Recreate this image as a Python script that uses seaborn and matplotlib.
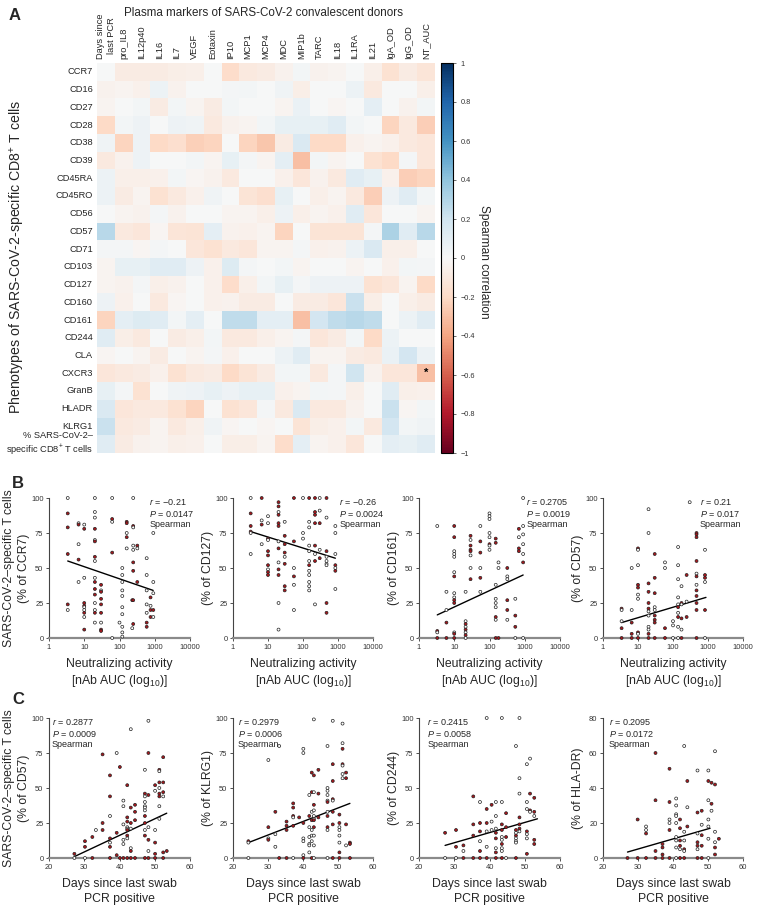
import numpy as np
import pandas as pd
import matplotlib
matplotlib.use("Agg")
import matplotlib.pyplot as plt
from matplotlib.ticker import NullLocator
import seaborn as sns

# ---------------- data: heatmap ----------------
col_labels = ["Days since\nlast PCR", "pro_IL8", "IL12p40", "IL16", "IL7", "VEGF", "Eotaxin",
              "IP10", "MCP1", "MCP4", "MDC", "MIP1b", "TARC", "IL18", "IL1RA", "IL21",
              "IgA_OD", "IgG_OD", "NT_AUC"]
row_labels = ["CCR7", "CD16", "CD27", "CD28", "CD38", "CD39", "CD45RA", "CD45RO", "CD56",
              "CD57", "CD71", "CD103", "CD127", "CD160", "CD161", "CD244", "CLA", "CXCR3",
              "GranB", "HLADR", "KLRG1", "% SARS-CoV-2–\nspecific CD8$^{+}$ T cells"]
corr = [
    [0, -0.08, -0.08, -0.08, -0.07, -0.06, 0, -0.18, -0.1, -0.08, -0.04, 0.03, -0.04, -0.03, 0, -0.06, -0.15, -0.08, -0.13],
    [-0.04, -0.03, -0.05, 0.06, -0.04, 0, 0, 0.02, 0.03, 0, 0.04, -0.07, 0, 0, 0.06, -0.1, 0, 0, -0.06],
    [-0.03, 0, 0.03, -0.08, 0.03, -0.03, -0.08, 0.03, 0, 0, -0.03, 0.07, 0, -0.02, 0, 0.1, 0, -0.04, 0.03],
    [-0.2, 0.03, 0.05, 0, 0.05, 0.04, -0.1, -0.04, -0.03, 0.03, 0.08, 0.08, 0.08, 0.12, 0.03, 0, -0.22, -0.1, -0.25],
    [0.04, -0.22, 0.05, -0.2, -0.17, -0.24, -0.22, 0, -0.22, -0.28, -0.08, 0.15, -0.2, -0.2, -0.05, -0.03, -0.05, -0.1, -0.12],
    [-0.1, -0.04, 0.05, 0, 0, 0.03, -0.03, 0.08, 0.02, -0.03, 0.1, -0.3, 0.03, -0.03, 0, -0.15, -0.2, 0.02, -0.12],
    [0.06, -0.06, -0.06, -0.05, 0.03, -0.02, -0.04, -0.1, 0, 0, -0.05, -0.12, -0.04, -0.1, 0.12, 0.08, -0.05, -0.25, -0.22],
    [0.06, -0.08, -0.03, -0.15, -0.1, -0.05, 0.04, 0, -0.14, -0.17, 0.08, 0, -0.06, -0.03, -0.1, -0.25, 0.05, 0.12, 0.03],
    [0, -0.03, -0.04, 0.02, -0.04, 0, 0, -0.03, -0.03, -0.06, 0.05, -0.06, -0.03, -0.05, 0.12, -0.12, 0, 0, -0.03],
    [0.28, -0.1, -0.12, -0.02, -0.13, -0.14, 0.1, -0.04, -0.05, -0.03, -0.22, 0, -0.14, -0.14, -0.14, 0.02, 0.32, 0.12, 0.28],
    [0.02, 0.02, -0.02, 0.02, 0, -0.12, -0.15, -0.1, -0.12, -0.03, -0.03, 0.02, -0.05, -0.04, 0.06, 0.15, -0.06, -0.06, 0],
    [-0.03, 0.08, 0.08, 0.12, 0.12, 0.05, -0.05, 0.14, 0.02, 0, 0.03, -0.03, 0, 0, -0.03, 0, -0.05, 0.03, 0.02],
    [-0.03, -0.04, 0.02, -0.06, -0.04, 0, -0.05, -0.18, -0.06, 0.03, 0.08, 0.02, 0.05, 0.05, 0.05, -0.15, -0.12, -0.03, -0.2],
    [0.05, -0.05, 0, -0.1, -0.02, 0, -0.05, -0.04, -0.08, -0.08, 0, -0.08, -0.08, -0.12, 0.22, -0.07, 0, -0.06, -0.08],
    [-0.22, 0.1, 0.14, 0.12, 0.03, 0.1, 0, 0.25, 0.25, 0.1, 0.1, -0.3, 0.18, 0.25, 0.28, 0.25, 0, 0.06, 0.12],
    [0.12, -0.07, -0.1, 0, -0.08, -0.06, 0.03, -0.1, -0.1, -0.06, -0.03, 0.02, -0.12, -0.08, 0.03, -0.2, 0.06, 0, 0],
    [-0.02, 0, -0.03, -0.08, 0, -0.03, 0.02, -0.05, 0, 0, 0.06, 0.12, -0.03, -0.03, -0.08, -0.1, 0.07, 0.18, 0.06],
    [-0.12, -0.1, -0.08, -0.05, -0.15, -0.1, -0.08, -0.2, -0.14, -0.08, 0.03, 0.03, -0.1, 0.02, 0.2, -0.04, -0.12, -0.12, -0.3],
    [0.08, 0.02, -0.15, 0, 0.04, 0.05, 0.08, 0.05, 0.08, 0.08, -0.05, -0.03, 0.03, 0.02, -0.06, 0, 0.12, -0.06, -0.05],
    [0.15, -0.12, -0.1, -0.1, -0.15, -0.22, 0, -0.15, -0.12, 0.02, -0.1, 0.15, -0.1, -0.1, -0.04, 0, 0.22, -0.02, 0.03],
    [0.22, -0.1, -0.08, -0.03, -0.1, -0.06, 0.04, -0.02, 0, -0.02, 0, -0.14, -0.07, -0.05, 0.03, -0.1, 0.18, 0.03, 0.04],
    [0.12, -0.08, -0.04, -0.03, -0.06, -0.05, 0, -0.07, -0.07, -0.03, -0.18, 0.1, -0.03, -0.05, -0.12, 0, 0.1, 0.08, 0.12],
]
star_row, star_col = "CXCR3", "NT_AUC"
cbar_ticks = [-1, -0.8, -0.6, -0.4, -0.2, 0, 0.2, 0.4, 0.6, 0.8, 1]
cbar_ticklabels = ["−1", "−0.8", "−0.6", "−0.4", "−0.2", "0", "0.2", "0.4", "0.6", "0.8", "1"]

# ---------------- data: scatter panels (x, y, group r=red / w=white) ----------------
b1_pts = [(3.4,100,'w'),(3.4,89,'r'),(3.4,79,'r'),(3.4,60,'r'),(3.4,24,'r'),(3.4,20,'w'),
          (6.9,82,'w'),(6.9,81,'r'),(6.9,67,'w'),(6.9,56,'r'),(6.9,40,'w'),
          (10,81,'w'),(10,78,'r'),(10,43,'w'),(10,25,'r'),(10,23,'r'),(10,22,'w'),(10,20,'w'),(10,18,'r'),(10,15,'w'),(10,6,'r'),
          (20,100,'w'),(20,90,'w'),(20,86,'w'),(20,78,'r'),(20,70,'w'),(20,69,'r'),(20,58,'r'),(20,55,'w'),(20,43,'w'),(20,40,'r'),
          (20,35,'r'),(20,31,'r'),(20,25,'w'),(20,20,'w'),(20,18,'r'),(20,11,'w'),
          (30,38,'r'),(30,34,'w'),(30,33,'r'),(30,28,'r'),(30,24,'r'),(30,18,'r'),(30,11,'w'),(30,6,'r'),(30,5,'r'),
          (62,100,'w'),(62,85,'r'),(62,83,'w'),(62,61,'r'),(62,0,'w'),(100,11,'w'),
          (120,50,'w'),(120,45,'w'),(120,40,'w'),(120,34,'w'),(120,30,'w'),(120,22,'w'),(120,17,'w'),(120,8,'w'),(120,4,'w'),(120,1,'w'),
          (160,83,'r'),(160,82,'r'),(160,75,'w'),(160,72,'r'),(160,64,'w'),(230,7,'w'),(230,27,'r'),
          (245,100,'w'),(245,80,'r'),(245,79,'w'),(245,66,'w'),(245,63,'w'),(245,54,'r'),(245,48,'r'),(245,27,'r'),(245,10,'r'),
          (320,66,'r'),(320,64,'w'),(320,40,'r'),
          (590,57,'w'),(590,45,'w'),(590,34,'w'),(590,24,'w'),(590,18,'w'),(590,11,'r'),(590,8,'r'),
          (760,29,'r'),(760,23,'w'),(760,20,'r'),(760,15,'r'),
          (910,75,'w'),(910,40,'w'),(910,32,'w'),(910,20,'r'),(910,15,'w')]
b2_pts = [(3.2,100,'w'),(3.2,89,'r'),(3.2,80,'r'),(3.2,76,'r'),(3.2,75,'w'),(3.2,60,'w'),
          (6.6,100,'r'),(6.6,84,'w'),(6.6,81,'r'),(6.6,67,'w'),
          (10,87,'w'),(10,82,'w'),(10,71,'r'),(10,70,'w'),(10,62,'r'),(10,59,'r'),(10,52,'r'),(10,49,'w'),(10,47,'r'),(10,45,'r'),
          (20,97,'r'),(20,94,'r'),(20,90,'w'),(20,88,'r'),(20,82,'r'),(20,80,'r'),(20,69,'w'),(20,64,'r'),(20,54,'w'),(20,49,'r'),
          (20,45,'r'),(20,25,'w'),(20,6,'w'),
          (30,83,'w'),(30,73,'r'),(30,67,'r'),(30,61,'r'),(30,58,'w'),(30,53,'r'),(30,37,'r'),(30,34,'r'),
          (55,100,'r'),(55,69,'r'),(55,50,'w'),(55,44,'r'),(55,38,'w'),(55,20,'w'),
          (100,100,'w'),(100,75,'w'),(100,71,'w'),
          (150,100,'r'),(150,83,'w'),(150,79,'w'),(150,66,'w'),(150,62,'w'),(150,55,'w'),(150,52,'r'),(150,48,'w'),(150,45,'w'),
          (150,40,'w'),(150,37,'w'),(150,34,'w'),
          (220,100,'r'),(220,90,'r'),(220,88,'r'),(220,82,'r'),(220,66,'r'),(220,60,'w'),(220,55,'r'),(220,24,'w'),
          (300,100,'w'),(300,91,'w'),(300,82,'r'),(300,63,'w'),(300,57,'r'),
          (470,100,'r'),(470,86,'w'),(470,62,'r'),(470,58,'w'),(470,55,'w'),(470,53,'w'),(470,52,'w'),(470,25,'r'),(470,18,'r'),
          (840,80,'w'),(840,75,'w'),(840,60,'w'),(840,52,'r'),(840,50,'w'),(840,48,'r'),(840,35,'w')]
b3_pts = [(3.3,80,'w'),(3.3,5,'r'),(3.3,4,'w'),(3.3,0,'r'),
          (6,33,'w'),(6,20,'w'),(6,11,'r'),(6,0,'r'),
          (10,80,'r'),(10,72,'r'),(10,62,'w'),(10,60,'w'),(10,58,'w'),(10,47,'w'),(10,44,'r'),(10,32,'w'),(10,29,'w'),(10,27,'r'),
          (10,25,'r'),(10,4,'w'),(10,3,'r'),(10,0,'r'),
          (21,33,'w'),(21,12,'w'),(21,10,'r'),(21,8,'w'),(21,6,'r'),(21,4,'w'),(21,2,'r'),(21,0,'w'),
          (29,73,'r'),(29,70,'w'),(29,66,'r'),(29,63,'r'),(29,62,'r'),(29,59,'w'),(29,50,'w'),(29,42,'r'),
          (55,80,'w'),(55,69,'r'),(55,61,'r'),(55,50,'w'),(55,43,'r'),(55,33,'w'),
          (100,89,'w'),(100,87,'w'),(100,85,'w'),(100,75,'w'),(100,72,'w'),(100,67,'r'),(100,66,'w'),(100,63,'w'),
          (150,71,'r'),(150,68,'r'),(150,38,'w'),(150,28,'w'),(150,25,'w'),(150,22,'w'),(150,15,'r'),(150,13,'w'),(150,0,'r'),
          (180,54,'w'),(180,50,'w'),(180,0,'r'),
          (320,50,'r'),(320,44,'w'),(320,42,'w'),(320,27,'r'),(320,20,'r'),(320,13,'w'),
          (540,28,'w'),(540,16,'r'),(540,8,'r'),(540,0,'w'),
          (680,78,'r'),(680,72,'w'),(680,64,'r'),(680,62,'r'),
          (900,100,'w'),(900,80,'w'),(900,74,'w'),(900,67,'w'),(900,60,'w'),(900,54,'r'),(900,0,'w')]
b4_pts = [(3.4,21,'r'),(3.4,20,'w'),(3.4,12,'w'),(3.4,7,'r'),(3.4,0,'r'),
          (6.6,50,'w'),(6.6,20,'w'),(6.6,11,'r'),(6.6,3,'r'),(6.6,0,'r'),
          (10,64,'r'),(10,63,'w'),(10,52,'w'),(10,38,'r'),(10,36,'r'),(10,31,'w'),(10,28,'w'),(10,4,'r'),(10,3,'w'),(10,0,'r'),
          (20,92,'w'),(20,75,'w'),(20,39,'r'),(20,33,'r'),(20,25,'r'),(20,21,'r'),(20,19,'w'),(20,16,'w'),(20,8,'w'),(20,6,'w'),
          (20,3,'r'),(20,0,'r'),
          (30,60,'r'),(30,43,'r'),(30,32,'r'),(30,22,'w'),(30,20,'w'),(30,16,'r'),(30,13,'r'),(30,11,'r'),(30,0,'r'),
          (59,54,'w'),(59,50,'w'),(59,7,'r'),(59,0,'r'),(100,12,'w'),(100,9,'w'),(100,0,'w'),
          (140,65,'w'),(140,52,'w'),(140,42,'w'),(140,29,'w'),(140,24,'w'),(140,22,'r'),(140,18,'w'),(140,15,'r'),(140,8,'w'),(140,0,'w'),
          (175,37,'w'),(175,25,'r'),(175,24,'w'),(175,14,'r'),(175,6,'w'),(175,0,'r'),
          (245,45,'r'),(245,26,'w'),(245,15,'r'),(300,97,'w'),
          (470,75,'r'),(470,74,'r'),(470,72,'r'),(470,55,'r'),(470,46,'w'),(470,44,'r'),(470,38,'w'),(470,34,'r'),(470,30,'r'),
          (470,25,'r'),(470,20,'r'),(470,0,'r'),
          (820,63,'w'),(820,45,'r'),(820,43,'r'),(820,40,'w'),(820,20,'r'),(820,0,'w')]
c1_pts = [(27.2,3,'r'),(27.2,0,'w'),(30.2,12,'r'),(30.2,8,'r'),(30.2,0,'w'),(32.3,15,'r'),(32.3,0,'r'),(33.3,20,'w'),
          (35.2,74,'r'),(35.2,25,'r'),(35.2,20,'r'),
          (37.3,59,'r'),(37.3,44,'r'),(37.3,30,'w'),(37.3,14,'r'),(37.3,11,'w'),(37.3,8,'r'),(37.3,0,'r'),
          (39.2,75,'w'),(39.2,18,'r'),(39.2,2,'r'),(40.1,65,'r'),(40.1,0,'r'),
          (41.1,41,'w'),(41.1,37,'w'),(41.1,24,'w'),(41.1,13,'w'),(41.1,10,'w'),(41.1,0,'r'),
          (42.2,52,'r'),(42.2,29,'r'),(42.2,26,'r'),(42.2,22,'w'),(42.2,21,'w'),(42.2,20,'r'),(42.2,16,'r'),(42.2,14,'w'),(42.2,0,'r'),
          (43.2,92,'w'),(43.2,36,'r'),(43.2,25,'r'),(43.2,21,'w'),(43.2,7,'w'),(43.2,5,'r'),(43.2,0,'r'),
          (44.4,38,'r'),(44.4,33,'r'),(44.4,27,'r'),(44.4,0,'r'),
          (47.2,63,'w'),(47.2,46,'r'),(47.2,44,'w'),(47.2,40,'w'),(47.2,37,'w'),(47.2,36,'w'),(47.2,34,'w'),(47.2,30,'r'),
          (47.2,25,'r'),(47.2,20,'w'),(47.2,16,'r'),(47.2,0,'r'),
          (48.2,98,'w'),(48.2,75,'r'),(48.2,45,'r'),(48.2,22,'w'),(48.2,13,'r'),(48.2,5,'w'),(48.2,0,'r'),
          (50.1,52,'r'),(50.1,48,'w'),(50.1,20,'w'),(50.1,11,'r'),(50.1,3,'r'),(50.1,0,'r'),
          (51.3,63,'r'),(51.3,62,'w'),(51.3,54,'r'),(51.3,50,'w'),(51.3,46,'r'),(51.3,44,'r'),(51.3,37,'w'),(51.3,28,'w'),
          (52.4,72,'r'),(52.4,54,'r'),(52.4,47,'r'),(52.4,44,'w'),(52.4,4,'r'),(52.4,0,'r'),(53.4,5,'r')]
c2_pts = [(24.4,12,'r'),(24.4,11,'w'),(24.4,0,'w'),(30.1,70,'w'),(30.1,22,'r'),(30.1,14,'w'),(30.1,13,'r'),
          (32.1,33,'r'),(32.1,17,'w'),(32.1,8,'w'),(33.2,80,'w'),(33.2,0,'r'),
          (35.3,26,'r'),(35.3,23,'r'),(35.3,20,'r'),(35.3,0,'r'),
          (37.2,39,'r'),(37.2,36,'r'),(37.2,30,'r'),(37.2,29,'w'),(37.2,23,'r'),(37.2,0,'w'),(38.9,29,'r'),
          (40.1,78,'w'),(40.1,75,'w'),(40.1,25,'r'),(40.1,14,'w'),(40.1,12,'w'),(40.1,2,'w'),(40.1,0,'r'),
          (41.8,45,'w'),(41.8,30,'r'),(41.8,22,'w'),(41.8,15,'w'),(41.8,10,'w'),(41.8,9,'w'),(41.8,4,'w'),
          (42.5,61,'r'),(42.5,47,'r'),(42.5,33,'w'),(42.5,27,'r'),(42.5,20,'w'),(42.5,16,'w'),(42.5,12,'w'),(42.5,0,'r'),
          (43.1,99,'w'),(43.1,59,'r'),(43.1,47,'w'),(43.1,38,'r'),(43.1,34,'w'),(43.1,30,'w'),(43.1,28,'w'),(43.1,27,'r'),
          (43.1,22,'r'),(43.1,16,'w'),(43.1,9,'w'),(43.1,0,'w'),
          (44.4,63,'r'),(44.4,46,'r'),(44.4,29,'r'),
          (47.0,80,'w'),(47.0,50,'w'),(47.0,48,'w'),(47.0,45,'w'),(47.0,41,'w'),(47.0,40,'r'),(47.0,33,'w'),(47.0,30,'r'),
          (47.0,22,'r'),(47.0,20,'w'),(47.0,0,'w'),
          (48.5,98,'w'),(48.5,67,'r'),(48.5,55,'r'),(48.5,42,'r'),(48.5,41,'w'),(48.5,33,'r'),(48.5,24,'r'),(48.5,0,'r'),
          (50.4,31,'r'),(50.4,25,'r'),(50.4,22,'w'),(50.4,20,'w'),(50.4,16,'w'),(50.4,11,'w'),(50.4,4,'r'),(50.4,0,'r'),
          (51.3,96,'w'),(51.3,82,'w'),(51.3,78,'r'),(51.3,67,'r'),(51.3,66,'w'),(51.3,60,'w'),(51.3,57,'w'),
          (52.3,61,'r'),(52.3,57,'r'),(52.3,24,'r'),(52.3,9,'w'),(53.4,11,'r'),(53.4,10,'r'),(53.4,0,'r')]
c3_pts = [(27.4,18,'r'),(27.4,0,'w'),(30.5,20,'r'),(30.5,8,'r'),(30.5,0,'w'),(32.6,9,'r'),(32.6,5,'w'),(32.6,0,'r'),
          (35.4,44,'r'),(35.4,24,'r'),(35.4,16,'r'),(35.4,0,'r'),
          (37.3,40,'w'),(37.3,25,'r'),(37.3,19,'r'),(37.3,12,'w'),(37.3,5,'r'),(37.3,0,'r'),
          (39.2,100,'w'),(39.2,35,'r'),(39.2,25,'r'),(39.2,19,'w'),(39.2,8,'w'),(39.2,0,'r'),
          (40.6,38,'r'),(40.6,26,'w'),(40.6,20,'w'),
          (41.8,40,'w'),(41.8,30,'w'),(41.8,21,'w'),(41.8,18,'r'),(41.8,14,'r'),(41.8,7,'w'),(41.8,4,'r'),(41.8,0,'r'),
          (43.5,100,'w'),(43.5,40,'w'),(43.5,24,'r'),(43.5,20,'r'),(43.5,15,'w'),(43.5,13,'w'),(43.5,10,'r'),(43.5,7,'w'),
          (43.5,5,'w'),(43.5,0,'r'),
          (44.7,32,'r'),(44.7,22,'r'),(44.7,15,'r'),(44.7,0,'w'),
          (47.5,80,'w'),(47.5,20,'r'),(47.5,18,'w'),(47.5,16,'r'),(47.5,14,'w'),(47.5,12,'w'),(47.5,11,'w'),(47.5,0,'r'),
          (48.5,100,'w'),(48.5,57,'w'),(48.5,46,'w'),(48.5,29,'r'),(48.5,24,'r'),(48.5,21,'r'),(48.5,19,'w'),
          (50.6,67,'w'),(50.6,40,'w'),(50.6,35,'w'),(50.6,19,'r'),(50.6,17,'w'),(50.6,14,'w'),(50.6,3,'r'),
          (51.5,71,'w'),(51.5,46,'r'),(51.5,34,'r'),(51.5,33,'w'),
          (52.7,43,'r'),(52.7,33,'r'),(52.7,30,'w'),(52.7,13,'r'),(52.7,10,'r')]
c4_pts = [(27.0,0,'r'),(29.9,22,'r'),(29.9,0,'r'),(32.3,18,'w'),(32.3,16,'w'),(32.3,14,'r'),(32.3,0,'r'),
          (35.0,60,'r'),(35.0,33,'r'),(35.0,4,'r'),(35.0,0,'r'),
          (37.0,8,'r'),(37.0,6,'r'),(37.0,2,'r'),(37.0,0,'r'),
          (39.0,51,'r'),(39.0,32,'r'),(39.0,22,'w'),(39.0,20,'w'),(39.0,16,'r'),(39.0,0,'r'),
          (40.9,34,'w'),(40.9,30,'w'),(40.9,25,'w'),(40.9,24,'w'),(40.9,20,'w'),(40.9,12,'w'),(40.9,10,'w'),(40.9,6,'w'),(40.9,0,'w'),
          (42.0,22,'r'),(42.0,17,'r'),(42.0,10,'r'),(42.0,7,'r'),(42.0,5,'w'),(42.0,0,'r'),
          (43.2,64,'w'),(43.2,15,'w'),(43.2,10,'w'),(43.2,5,'r'),(43.2,4,'w'),(43.2,0,'r'),
          (44.1,44,'r'),(44.1,29,'w'),(44.1,18,'r'),
          (47.0,50,'w'),(47.0,26,'r'),(47.0,14,'w'),(47.0,9,'r'),(47.0,7,'r'),(47.0,5,'w'),(47.0,0,'r'),
          (48.2,27,'r'),(48.2,19,'w'),(48.2,13,'r'),(48.2,7,'r'),(48.2,0,'r'),
          (50.1,50,'w'),(50.1,44,'r'),(50.1,33,'w'),(50.1,22,'w'),(50.1,18,'w'),(50.1,11,'w'),(50.1,0,'w'),
          (51.0,43,'r'),(51.0,31,'r'),(51.0,27,'w'),
          (52.0,61,'w'),(52.0,42,'r'),(52.0,15,'w'),(52.0,9,'w'),(52.0,6,'r'),(52.0,2,'r'),(53.1,11,'r')]

# regression line endpoints
b1_fit = ([3.4, 900], [55, 34])
b2_fit = ([3.2, 840], [76, 57])
b3_fit = ([3.3, 900], [16.5, 45])
b4_fit = ([3.4, 875], [11, 29])
c1_fit = ([27.2, 53.4], [1, 32])
c2_fit = ([24.4, 53.4], [11, 39])
c3_fit = ([27.4, 53.6], [9, 28])
c4_fit = ([27.0, 50.6], [3.4, 17])

b_ylabels = ["SARS-CoV-2–specific T cells\n(% of CCR7)", "(% of CD127)", "(% of CD161)", "(% of CD57)"]
c_ylabels = ["SARS-CoV-2–specific T cells\n(% of CD57)", "(% of KLRG1)", "(% of CD244)", "(% of HLA-DR)"]
b_stats = [("−0.21", "0.0147"), ("−0.26", "0.0024"), ("0.2705", "0.0019"), ("0.21", "0.017")]
c_stats = [("0.2877", "0.0009"), ("0.2979", "0.0006"), ("0.2415", "0.0058"), ("0.2095", "0.0172")]
log_ticks = [1, 10, 100, 1000, 10000]
day_ticks = [20, 30, 40, 50, 60]

# ---------------- style ----------------
sns.set_theme(style="white")
plt.rcParams["font.family"] = ["Liberation Sans", "DejaVu Sans"]
plt.rcParams["mathtext.fontset"] = "custom"
plt.rcParams["mathtext.rm"] = "Liberation Sans"
plt.rcParams["mathtext.it"] = "Liberation Sans:italic"
plt.rcParams["mathtext.bf"] = "Liberation Sans:bold"

W, H = 765, 913
fig = plt.figure(figsize=(W / 100, H / 100), dpi=100)


def px_axes(x0, y0, x1, y1):
    return fig.add_axes([x0 / W, 1 - y1 / H, (x1 - x0) / W, (y1 - y0) / H])


# ---------------- panel A: heatmap ----------------
axh = px_axes(97, 63, 435, 453)
cax = px_axes(441, 63, 453, 453)
df = pd.DataFrame(corr, index=row_labels, columns=col_labels)
annot = np.full(df.shape, "", dtype=object)
annot[row_labels.index(star_row), col_labels.index(star_col)] = "*"
sns.heatmap(df, ax=axh, cbar_ax=cax, cmap="RdBu", vmin=-1, vmax=1,
            annot=annot, fmt="", annot_kws=dict(fontsize=8, color="black", fontweight="bold"))
axh.xaxis.tick_top()
axh.set_xticklabels(col_labels, rotation=90, fontsize=6.7, va="bottom", ha="center")
axh.set_yticklabels(row_labels, rotation=0, fontsize=6.7, ha="right")
axh.tick_params(length=0, pad=3)
axh.set_xlabel("")
axh.set_ylabel("")

cb = axh.collections[0].colorbar
cb.set_ticks(cbar_ticks)
cb.set_ticklabels(cbar_ticklabels)
cb.outline.set_edgecolor("black")
cb.outline.set_linewidth(0.8)
cax.tick_params(labelsize=5.3, length=2.5, width=0.5, pad=3, colors="#333333")
fig.text(484 / W, 1 - 262 / H, "Spearman correlation", rotation=270, fontsize=8.6,
         ha="center", va="center")

fig.text(263 / W, 1 - 13 / H, "Plasma markers of SARS-CoV-2 convalescent donors",
         fontsize=8.4, ha="center", va="center")
fig.text(18 / W, 1 - 257 / H, "Phenotypes of SARS-CoV-2-specific CD8$^{+}$ T cells",
         rotation=90, fontsize=10.2, ha="center", va="center")
for letter, (lx, ly) in zip("ABC", [(15, 15), (18, 483), (18, 699)]):
    fig.text(lx / W, 1 - ly / H, letter, fontsize=12, fontweight="bold", ha="center", va="center")

# ---------------- scatter panels ----------------
palette = {"w": "white", "r": "#a8161c"}
x_spans = [(49, 190), (233, 373), (419, 560), (603, 743)]
b_text_x = [0.71, 0.76, 0.76, 0.69]
c_text_x = [0.02, 0.035, 0.06, 0.04]


def style_axis(ax):
    sns.despine(ax=ax)
    ax.spines["left"].set_color("#444444")
    ax.spines["left"].set_linewidth(0.8)
    ax.spines["bottom"].set_color("#8a8a8a")
    ax.spines["bottom"].set_linewidth(1.6)
    ax.tick_params(axis="both", labelsize=5.4, length=2.5, width=0.6, colors="#333333",
                   pad=1.5, direction="out", bottom=True, left=True)
    ax.set_facecolor("none")


def draw_scatter(ax, pts, fit):
    d = pd.DataFrame(pts, columns=["x", "y", "grp"])
    sns.scatterplot(data=d, x="x", y="y", hue="grp", palette=palette, s=4.5,
                    edgecolor="#222222", linewidth=0.5, legend=False, ax=ax,
                    clip_on=False, zorder=3)
    sns.lineplot(x=fit[0], y=fit[1], ax=ax, color="black", lw=1.0, zorder=2)


def set_ylab(ax, text):
    ax.set_ylabel(text, fontsize=8.8, linespacing=1.3)
    ax.yaxis.set_label_coords(-19 / 141, 0.5)


b_pts = [b1_pts, b2_pts, b3_pts, b4_pts]
b_fits = [b1_fit, b2_fit, b3_fit, b4_fit]
for i, (x0, x1) in enumerate(x_spans):
    ax = px_axes(x0, 498, x1, 638)
    draw_scatter(ax, b_pts[i], b_fits[i])
    ax.set_xscale("log")
    ax.set_xlim(1, 10000)
    ax.set_ylim(0, 100)
    ax.set_xticks(log_ticks)
    ax.set_xticklabels([str(t) for t in log_ticks])
    ax.xaxis.set_minor_locator(NullLocator())
    ax.set_yticks([0, 25, 50, 75, 100])
    style_axis(ax)
    ax.set_xlabel("Neutralizing activity\n[nAb AUC (log$_{10}$)]", fontsize=8.8, linespacing=1.35, labelpad=5)
    set_ylab(ax, b_ylabels[i])
    r, p = b_stats[i]
    ax.text(b_text_x[i], 1.005, f"$\\it{{r}}$ = {r}\n$\\it{{P}}$ = {p}\nSpearman",
            transform=ax.transAxes, fontsize=6.5, va="top", ha="left", linespacing=1.15)

c_pts = [c1_pts, c2_pts, c3_pts, c4_pts]
c_fits = [c1_fit, c2_fit, c3_fit, c4_fit]
for i, (x0, x1) in enumerate(x_spans):
    ax = px_axes(x0, 718, x1, 858)
    draw_scatter(ax, c_pts[i], c_fits[i])
    ax.set_xlim(20, 60)
    ax.set_xticks(day_ticks)
    if i == 3:
        ax.set_ylim(0, 80)
        ax.set_yticks([0, 20, 40, 60, 80])
    else:
        ax.set_ylim(0, 100)
        ax.set_yticks([0, 25, 50, 75, 100])
    style_axis(ax)
    ax.set_xlabel("Days since last swab\nPCR positive", fontsize=8.8, linespacing=1.35, labelpad=5)
    set_ylab(ax, c_ylabels[i])
    r, p = c_stats[i]
    ax.text(c_text_x[i], 1.005, f"$\\it{{r}}$ = {r}\n$\\it{{P}}$ = {p}\nSpearman",
            transform=ax.transAxes, fontsize=6.5, va="top", ha="left", linespacing=1.15)

fig.savefig("out.png", dpi=100)
